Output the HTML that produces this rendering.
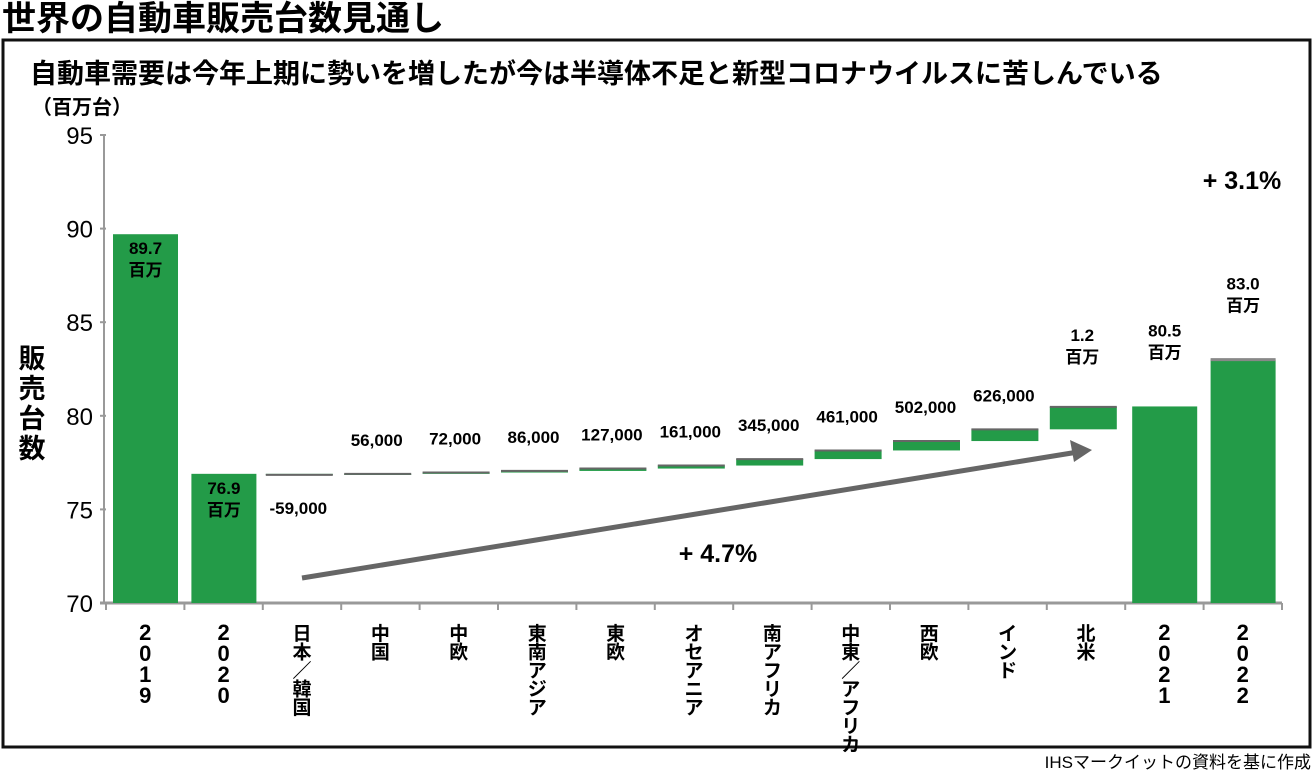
<!DOCTYPE html>
<html><head><meta charset="utf-8"><style>
body{margin:0;background:#fff;width:1314px;height:773px;overflow:hidden}
svg text{font-family:"Liberation Sans","Noto Sans CJK JP",sans-serif}
.n{font-family:"Liberation Sans Narrow","Liberation Sans","Noto Sans CJK JP",sans-serif;font-weight:bold}
</style></head><body>
<svg width="1314" height="773" xmlns="http://www.w3.org/2000/svg">
<text x="2" y="30" font-size="34" font-weight="bold">世界の自動車販売台数見通し</text>
<rect x="3" y="40" width="1307" height="707" fill="none" stroke="#111" stroke-width="3"/>
<text x="30" y="83" font-size="27" font-weight="bold">自動車需要は今年上期に勢いを増したが今は半導体不足と新型コロナウイルスに苦しんでいる</text>
<text x="32" y="114" font-size="20" font-weight="bold">（百万台）</text>
<text x="1311" y="768" font-size="17" text-anchor="end">IHSマークイットの資料を基に作成</text>
<g font-size="27" font-weight="bold" text-anchor="middle">
<text x="32" y="368">販</text><text x="32" y="398">売</text><text x="32" y="428">台</text><text x="32" y="458">数</text></g>
<g id="axes"></g><g id="marks"></g><g id="labels"></g>
<g>
<line x1="302" y1="578" x2="1078" y2="452" stroke="#666" stroke-width="5"/>
<polygon points="1092,450 1070,440 1074,462" fill="#666"/></g>
<text x="718" y="562" font-size="25" text-anchor="middle" class="n">+ 4.7%</text>
<text x="1242" y="189" font-size="25" text-anchor="middle" class="n">+ 3.1%</text>
</svg>
<script>
const categories=["2019","2020","日本／韓国","中国","中欧","東南アジア","東欧","オセアニア","南アフリカ","中東／アフリカ","西欧","インド","北米","2021","2022"];
const totals={0:89.7,1:76.9,13:80.5,14:83.0};
const deltas=[null,null,-0.059,0.056,0.072,0.086,0.127,0.161,0.345,0.461,0.502,0.626,1.2,null,null];
const deltaLabels=[null,null,"-59,000","56,000","72,000","86,000","127,000","161,000","345,000","461,000","502,000","626,000","1.2|百万",null,null];
const totalLabels={0:"89.7|百万",1:"76.9|百万",13:"80.5|百万",14:"83.0|百万"};
const yTicks=[70,75,80,85,90,95];
const NS="http://www.w3.org/2000/svg";
const x0=106,step=78.4,yBase=603,pxU=18.72;
const y=v=>yBase-(v-70)*pxU;
const xs=i=>x0+i*step;
function mk(t,a,p){const e=document.createElementNS(NS,t);for(const k in a)e.setAttribute(k,a[k]);p.appendChild(e);return e;}
const ax=document.getElementById('axes'),mg=document.getElementById('marks'),lb=document.getElementById('labels');
yTicks.forEach(v=>{const t=mk('text',{x:93,y:y(v)+9,'font-size':24,'text-anchor':'end'},ax);t.textContent=v;


mk('line',{x1:100,y1:y(v),x2:106,y2:y(v),stroke:'#999','stroke-width':2},ax);});
const yl=mk('line',{x1:104,y1:y(95),x2:104,y2:yBase,stroke:'#999','stroke-width':2},ax);


const xl=mk('line',{x1:100,y1:yBase,x2:xs(15),y2:yBase,stroke:'#999','stroke-width':3},ax);


for(let i=0;i<=15;i++)mk('line',{x1:xs(i),y1:yBase,x2:xs(i),y2:yBase+7,stroke:'#999','stroke-width':2},ax);
categories.forEach((c,i)=>{const digits=/^\d+$/.test(c);const g=mk('g',{'font-size':digits?22:19,'font-weight':'bold','text-anchor':'middle'},ax);


[...c].forEach((ch,k)=>{const t=mk('text',{x:xs(i)+step/2,y:640+k*(digits?21:18.5)},g);t.textContent=ch;});});
function label(txt,cx,ty,name){const g=mk('g',{'font-size':17,'text-anchor':'middle',class:'n'},lb);


txt.split('|').forEach((s,k)=>{const t=mk('text',{x:cx,y:ty+k*22},g);t.textContent=s;});}
let run=0;
categories.forEach((c,i)=>{
 const L=xs(i)+7,W=65,cx=L+W/2;
 if(totals[i]!==undefined){run=totals[i];
  const r=mk('rect',{x:L,y:y(totals[i]),width:W,height:yBase-y(totals[i]),fill:'#239b48'},mg);
  
  
  if(i==14)mk('line',{x1:L,y1:y(totals[i]),x2:L+W,y2:y(totals[i]),stroke:'#888','stroke-width':3},mg);
  if(i<2)label(totalLabels[i],cx,y(totals[i])+20,'total-label-'+c);
  else label(totalLabels[i],cx,y(totals[i])-70,'total-label-'+c);
 }else{const d=deltas[i],a=run,b=run+d;run=b;
  const top=y(Math.max(a,b)),bot=y(Math.min(a,b));
  const r=mk('rect',{x:L-4,y:top,width:W+2,height:Math.max(bot-top,1),fill:'#239b48'},mg);
  
  
  mk('line',{x1:L-4,y1:y(b),x2:L+W-2,y2:y(b),stroke:'#666','stroke-width':2},mg);
  if(d<0)label(deltaLabels[i],cx-4,y(a)+40,'delta-label-'+c);
  else label(deltaLabels[i],cx-4,top-(deltaLabels[i].includes('|')?66:28),'delta-label-'+c);
 }});
</script>
</body></html>
